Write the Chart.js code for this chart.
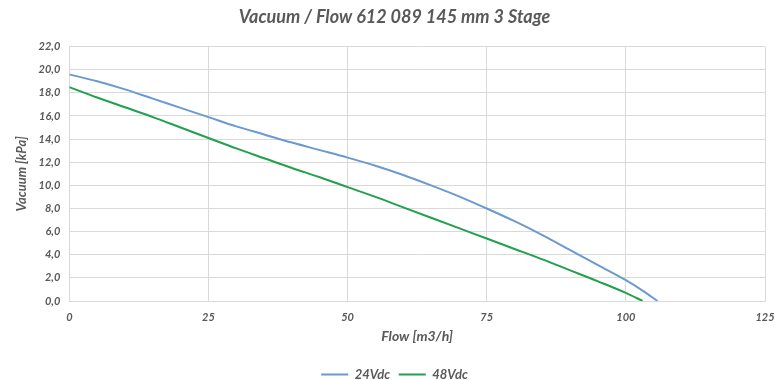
<!DOCTYPE html>
<html>
<head>
<meta charset="utf-8">
<script src="https://cdn.jsdelivr.net/npm/chart.js@4"></script>
<style>
  html, body { margin: 0; padding: 0; background: #fff; }
  #wrap { width: 775px; height: 380px; position: relative; }
</style>
</head>
<body>
<div id="wrap"><canvas id="chart"></canvas></div>
<script>
// Flow [m3/h] and vacuum [kPa]
const flow24 = [0, 5, 10, 15, 20, 25, 30, 35, 40, 45, 50, 55, 60, 65, 70, 75, 80, 85, 90, 95, 100, 103, 105.7];
const vac24  = [19.6, 19.0, 18.3, 17.5, 16.7, 15.9, 15.1, 14.4, 13.7, 13.05, 12.4, 11.7, 10.9, 10.0, 9.05, 8.0, 6.9, 5.7, 4.4, 3.1, 1.8, 0.9, 0];
const flow48 = [0, 5, 10, 15, 20, 25, 30, 35, 40, 45, 50, 55, 60, 65, 70, 75, 80, 85, 90, 95, 100, 103];
const vac48  = [18.5, 17.6, 16.75, 15.9, 15.0, 14.1, 13.2, 12.35, 11.5, 10.7, 9.85, 9.0, 8.1, 7.2, 6.3, 5.4, 4.5, 3.6, 2.65, 1.7, 0.7, 0];
const seriesNames = ['24Vdc', '48Vdc'];
const xTicks = [0, 25, 50, 75, 100, 125];
const yMax = 22;

const textColor = '#595959';
const gridColor = '#d9d9d9';
const fontFam = 'Lato, "Open Sans", sans-serif';

function toPoints(xs, ys) {
    return xs.map((x, i) => ({ x: x, y: ys[i] }));
}

new Chart(document.getElementById('chart'), {
    type: 'line',
    data: {
        datasets: [
            {
                label: seriesNames[0],
                data: toPoints(flow24, vac24),
                borderColor: '#6a9ad0',
                backgroundColor: '#6a9ad0',
                borderWidth: 2,
                pointRadius: 0,
                cubicInterpolationMode: 'monotone'
            },
            {
                label: seriesNames[1],
                data: toPoints(flow48, vac48),
                borderColor: '#22a04e',
                backgroundColor: '#22a04e',
                borderWidth: 2,
                pointRadius: 0,
                cubicInterpolationMode: 'monotone'
            }
        ]
    },
    options: {
        responsive: true,
        maintainAspectRatio: false,
        animation: false,
        layout: { padding: { left: 14, right: 0, top: 2, bottom: -11 } },
        scales: {
            x: {
                type: 'linear',
                min: 0,
                max: 125,
                afterBuildTicks: (axis) => { axis.ticks = xTicks.map(v => ({ value: v })); },
                // keep only a small margin for the "125" label on the right
                afterFit: (axis) => { axis.paddingRight = 10; },
                grid: { color: gridColor, drawTicks: false },
                border: { color: gridColor },
                ticks: {
                    color: textColor,
                    padding: 10,
                    font: { family: fontFam, size: 11, style: 'italic', weight: 'bold' }
                },
                title: {
                    display: true,
                    text: 'Flow [m3/h]',
                    color: textColor,
                    padding: { top: -6, bottom: 23 },
                    font: { family: fontFam, size: 14, style: 'italic', weight: 'bold' }
                }
            },
            y: {
                min: 0,
                max: yMax,
                grid: { color: gridColor, drawTicks: false },
                border: { color: gridColor },
                ticks: {
                    stepSize: 2,
                    color: textColor,
                    padding: 9,
                    callback: (v) => v.toFixed(1).replace('.', ','),
                    font: { family: fontFam, size: 11, style: 'italic', weight: 'bold' }
                },
                title: {
                    display: true,
                    text: 'Vacuum [kPa]',
                    color: textColor,
                    padding: { top: 0, bottom: 0 },
                    font: { family: fontFam, size: 13, style: 'italic', weight: 'bold' }
                }
            }
        },
        plugins: {
            title: {
                display: true,
                text: 'Vacuum / Flow 612 089 145 mm 3 Stage',
                color: textColor,
                padding: { top: 4, bottom: 19 },
                font: { family: fontFam, size: 18, style: 'italic', weight: 'bold' }
            },
            legend: {
                position: 'bottom',
                labels: {
                    color: textColor,
                    boxWidth: 27,
                    boxHeight: 0,
                    padding: 0,
                    font: { family: fontFam, size: 13, style: 'italic', weight: 'bold' },
                    // trailing spaces on the first entry give the gap between the two items
                    generateLabels: (chart) => chart.data.datasets.map((ds, i) => ({
                        text: i === 0 ? ds.label + '   ' : ds.label,
                        strokeStyle: ds.borderColor,
                        fillStyle: ds.borderColor,
                        lineWidth: 2,
                        fontColor: textColor,
                        datasetIndex: i
                    }))
                }
            },
            tooltip: { enabled: false }
        }
    }
});
</script>
</body>
</html>
